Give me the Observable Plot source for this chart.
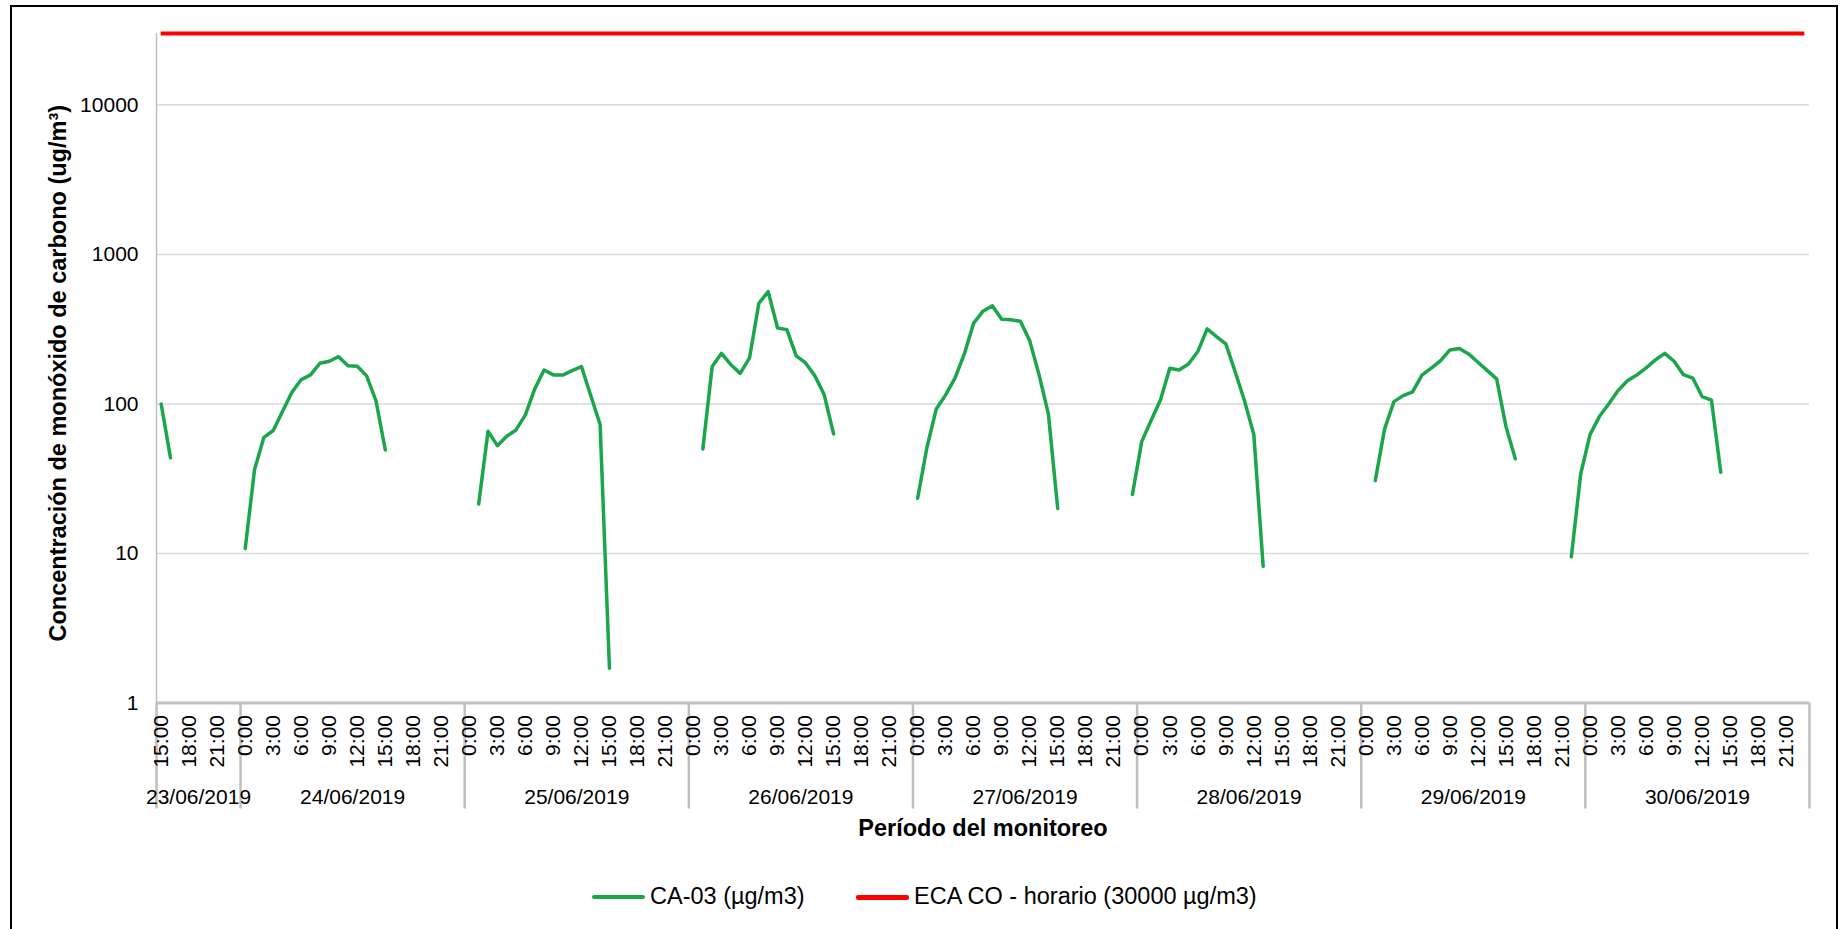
<!DOCTYPE html>
<html>
<head>
<meta charset="utf-8">
<script src="https://cdn.jsdelivr.net/npm/d3@7"></script>
<script src="https://cdn.jsdelivr.net/npm/@observablehq/plot@0.6"></script>
<style>
  html, body { margin: 0; padding: 0; background: #fff; }
  body { font-family: "Liberation Sans", Arial, sans-serif; }
  #wrap { position: relative; width: 1847px; height: 929px; overflow: hidden; background: #fff; }
  #chart { position: absolute; left: 0; top: 0; }
  #frame { position: absolute; left: 10px; top: 5px; width: 1828px; height: 940px; border: 2px solid #000; box-sizing: border-box; pointer-events: none; }
  .lg { position: absolute; font-size: 23.5px; color: #000; white-space: nowrap; line-height: 1; }
  .sw { position: absolute; }
</style>
</head>
<body>
<div id="wrap">
  <div id="chart"></div>
  <div id="legend"></div>
  <div id="frame"></div>
</div>
<script>
// ---------- data ----------
const days = ["23/06/2019", "24/06/2019", "25/06/2019", "26/06/2019", "27/06/2019", "28/06/2019", "29/06/2019", "30/06/2019"];
const firstHour = 15; // the series starts at 23/06/2019 15:00
const seriesName = "CA-03 (µg/m3)";
const limitName = "ECA CO - horario (30000 µg/m3)";
const ecaLimit = 30000;
const yTicks = [1, 10, 100, 1000, 10000];
const yTitle = "Concentración de monóxido de carbono (ug/m³)";
const xTitle = "Período del monitoreo";

// hourly CA-03 values (index = hour of day 0..23), null = no data
const ca03_2306 = [null, null, null, null, null, null, null, null, null, null, null, null, null, null, null, 100, 43.6, null, null, null, null, null, null, null];
const ca03_2406 = [10.8, 36.4, 59.8, 66.4, 89.3, 119.7, 145.5, 156.3, 187, 193, 207, 180, 178.5, 154, 105, 49.2, null, null, null, null, null, null, null, null];
const ca03_2506 = [null, 21.4, 65.6, 52.6, 60.8, 67, 84.4, 126, 168.7, 156.3, 156, 167, 177.8, 113.7, 72.8, 1.71, null, null, null, null, null, null, null, null];
const ca03_2606 = [null, 50, 177.8, 218, 183, 160, 203, 471, 564, 322, 314, 209.5, 188, 154, 115, 63, null, null, null, null, null, null, null, null];
const ca03_2706 = [23.4, 51.3, 92.6, 115, 149, 216, 347, 417, 453, 368, 365, 357, 265, 157, 85.8, 20, null, null, null, null, null, null, null, 24.8];
const ca03_2806 = [56.2, 77.4, 106.3, 173.4, 168.8, 185, 224, 318, 282, 252, 164, 105, 62.4, 8.2, null, null, null, null, null, null, null, null, null, null];
const ca03_2906 = [null, 30.7, 68, 103.6, 113.6, 120.3, 155.6, 173.4, 195, 229.7, 234.5, 216, 190, 167, 147, 70.5, 42.9, null, null, null, null, null, 9.5, 34];
const ca03_3006 = [62.4, 82.3, 100, 122.8, 143, 156, 174, 197, 218, 193, 157, 149, 112, 106, 34.9, null, null, null, null, null, null, null, null, null];

const dayValues = [ca03_2306, ca03_2406, ca03_2506, ca03_2606, ca03_2706, ca03_2806, ca03_2906, ca03_3006];

// ---------- build category table ----------
const rows = [];
const hourTicks = new Map();
const dayBounds = [];
const dayCenters = new Map();
let idx = 0;
days.forEach((day, d) => {
  const start = idx;
  dayBounds.push(start);
  for (let h = (d === 0 ? firstHour : 0); h < 24; h++) {
    const v = dayValues[d][h];
    rows.push({x: idx + 0.5, v: v == null ? NaN : v});
    if (h % 3 === 0) hourTicks.set(idx + 0.5, h + ":00");
    idx++;
  }
  dayCenters.set((start + idx) / 2, day);
});
dayBounds.push(idx);
const nCat = idx;

const green = "#1ba64b";
const red = "#ff0000";
const gridC = "#d9d9d9";
const axisC = "#bfbfbf";

const W = 1847, H = 870;
const chart = Plot.plot({
  width: W,
  height: H,
  marginLeft: 156,
  marginRight: 38,
  marginTop: 33,
  marginBottom: H - 702.5,
  style: {fontFamily: "'Liberation Sans', Arial, sans-serif", fontSize: "21px", color: "#000", background: "transparent", overflow: "visible"},
  x: {type: "linear", domain: [0, nCat], label: null},
  y: {type: "log", domain: [1, ecaLimit], label: null},
  marks: [
    Plot.ruleY(yTicks.slice(1), {stroke: gridC, strokeWidth: 1.5}),
    Plot.ruleX([0], {stroke: axisC, strokeWidth: 1.5}),
    Plot.ruleY([1], {stroke: axisC, strokeWidth: 3}),
    Plot.axisX({ticks: dayBounds, tickSize: 106, tickFormat: () => "", stroke: axisC, strokeWidth: 2.5, label: null}),
    Plot.axisX({ticks: [...hourTicks.keys()], tickFormat: d => hourTicks.get(d), tickSize: 0, tickPadding: 12, tickRotate: -90, fontSize: 21, label: null}),
    Plot.axisX({ticks: [...dayCenters.keys()], tickFormat: d => dayCenters.get(d), tickSize: 0, tickPadding: 86, fontSize: 21, label: null}),
    Plot.axisY({ticks: yTicks, tickFormat: d => String(d), tickSize: 0, tickPadding: 18, fontSize: 21, label: null}),
    Plot.ruleY([ecaLimit], {x1: 0.5, x2: nCat - 0.5, stroke: red, strokeWidth: 4}),
    Plot.lineY(rows, {x: "x", y: "v", stroke: green, strokeWidth: 3.5, strokeLinejoin: "round", strokeLinecap: "round"}),
    Plot.text([yTitle], {text: d => d, frameAnchor: "left", textAnchor: "middle", dx: -98, dy: 5, rotate: -90, fontWeight: "bold", fontSize: 23.5, lineAnchor: "middle"}),
    Plot.text([xTitle], {text: d => d, frameAnchor: "bottom", textAnchor: "middle", dy: 125.5, fontWeight: "bold", fontSize: 23.5, lineAnchor: "middle"})
  ]
});
document.getElementById("chart").appendChild(chart);

// ---------- legend ----------
const legend = document.getElementById("legend");
const items = [
  {label: seriesName, color: green, sw: 53, thick: 3.5, left: 592},
  {label: limitName, color: red, sw: 53, thick: 5, left: 856}
];
for (const it of items) {
  const s = document.createElement("div");
  s.className = "sw";
  s.style.left = it.left + "px";
  s.style.top = (897 - it.thick / 2) + "px";
  s.style.width = it.sw + "px";
  s.style.height = it.thick + "px";
  s.style.background = it.color;
  s.style.borderRadius = "2px";
  legend.appendChild(s);
  const t = document.createElement("div");
  t.className = "lg";
  t.textContent = it.label;
  t.style.left = (it.left + it.sw + 5) + "px";
  t.style.top = (897 - 12) + "px";
  legend.appendChild(t);
}
</script>
</body>
</html>
